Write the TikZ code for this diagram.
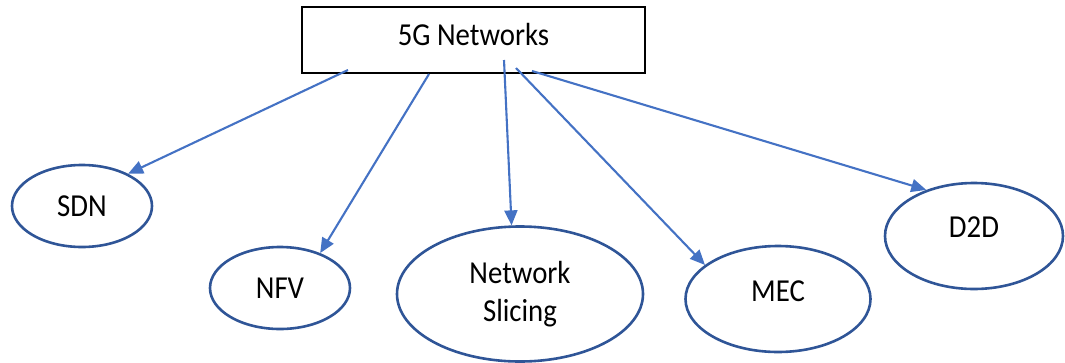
\documentclass[tikz,border=0pt]{standalone}
\usepackage{fontspec}
\setmainfont{Carlito}[FakeStretch=0.9]
\usetikzlibrary{arrows.meta,shapes.geometric}
\definecolor{ellblue}{HTML}{2F5597}
\definecolor{arrblue}{HTML}{4472C4}
\begin{document}
\begin{tikzpicture}[x=1pt,y=-1pt,
  lbl/.style={font=\fontsize{32}{38}\selectfont},
  oval/.style={ellipse,draw=ellblue,line width=2.6pt,inner sep=0pt,lbl,align=center},
  conn/.style={draw=arrblue,line width=2.1pt,-{Triangle[length=15pt,width=13pt]}},
  topbox/.style={draw=black,line width=2.4pt,inner sep=0pt,lbl}]
\useasboundingbox (0,0) rectangle (1065,362);
\node[topbox,minimum width=343pt,minimum height=66pt,text height=21pt,text depth=11pt] (top) at (473.5,40) {5G Networks};
\node[oval,minimum width=140pt,minimum height=82pt,text height=21pt,text depth=0pt] (sdn) at (82,206) {SDN};
\node[oval,minimum width=140pt,minimum height=82pt,text height=21pt,text depth=0pt] (nfv) at (280,288) {NFV};
\node[oval,minimum width=246pt,minimum height=135pt] (ns) at (520,294) {Network\\Slicing};
\node[oval,minimum width=185pt,minimum height=106pt,text height=21pt,text depth=16pt] (mec) at (778,299) {MEC};
\node[oval,minimum width=178pt,minimum height=106pt,text height=21pt,text depth=19pt] (d2d) at (974,236) {D2D};
\coordinate (s1) at (348,70);
\coordinate (s2) at (429,74);
\coordinate (s3) at (504,60);
\coordinate (s4) at (516,68);
\coordinate (s5) at (532,71);
\draw[conn] (s1) -- (sdn.35);
\draw[conn] (s2) -- (nfv.41);
\draw[conn] (s3) -- (ns.97);
\draw[conn] (s4) -- (mec.155);
\draw[conn] (s5) -- (d2d.136);
\end{tikzpicture}
\end{document}
